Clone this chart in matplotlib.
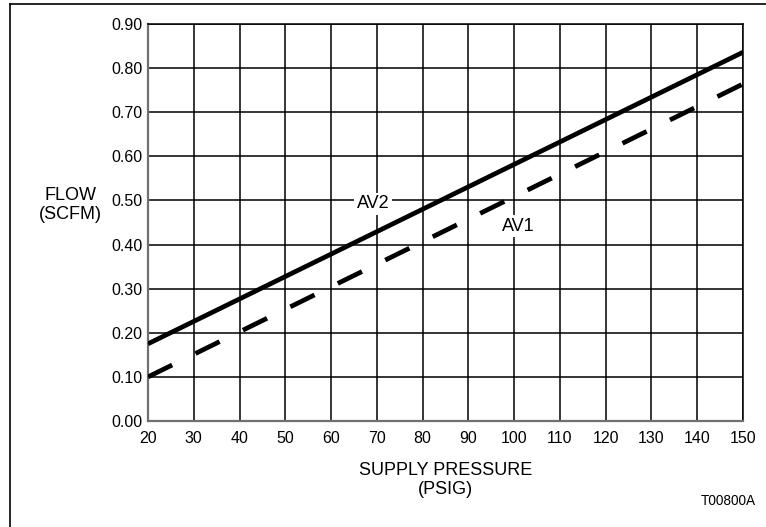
import matplotlib.pyplot as plt
from matplotlib.lines import Line2D

plt.rcParams['font.family'] = ['Liberation Sans', 'DejaVu Sans']

pressure = [20, 150]
av2_flow = [0.175, 0.836]
av1_flow = [0.100, 0.764]
x_ticks = [20, 30, 40, 50, 60, 70, 80, 90, 100, 110, 120, 130, 140, 150]
y_ticks = [0.0, 0.1, 0.2, 0.3, 0.4, 0.5, 0.6, 0.7, 0.8, 0.9]

fig = plt.figure(figsize=(7.66, 5.27), dpi=100)
ax = fig.add_axes([148/766, 1 - 421/527, 595/766, 397/527])

ax.set_xlim(20, 150)
ax.set_ylim(0, 0.9)
ax.set_xticks(x_ticks)
ax.set_yticks(y_ticks)
ax.set_yticklabels([f"{v:.2f}" for v in y_ticks])
ax.tick_params(length=0, labelsize=11.5, colors='black')
ax.tick_params(axis='x', pad=7)
ax.tick_params(axis='y', pad=4)
ax.grid(True, color='black', linewidth=1.1)
ax.set_axisbelow(True)

for side in ['left', 'bottom']:
    ax.spines[side].set_color('#707070')
    ax.spines[side].set_linewidth(1.6)
for side in ['top', 'right']:
    ax.spines[side].set_color('black')
    ax.spines[side].set_linewidth(1.1)

ax.plot(pressure, av2_flow, color='black', linewidth=3.4, solid_capstyle='butt', zorder=3)
ax.plot(pressure, av1_flow, color='black', linewidth=3.4, dashes=(5.7, 5.5), dash_capstyle='butt', zorder=3)

box = dict(facecolor='white', edgecolor='none', pad=2)
ax.text(69.2, 0.492, "AV2", fontsize=13, ha='center', va='center', bbox=box, zorder=4)
ax.text(100.8, 0.442, "AV1", fontsize=13, ha='center', va='center', bbox=box, zorder=4)

fig.text(445.5/766, 1 - 480/527, "SUPPLY PRESSURE\n(PSIG)", fontsize=13,
         ha='center', va='center', linespacing=1.15)
fig.text(70/766, 1 - 205/527, "FLOW\n(SCFM)", fontsize=13,
         ha='center', va='center', linespacing=1.15)
fig.text(756/766, 1 - 501/527, "T00800A", fontsize=9.8, ha='right', va='center')

# outer frame (left and top edges visible)
fig.add_artist(Line2D([10/766, 10/766], [0, 1 - 4/527], color='black', linewidth=1.2))
fig.add_artist(Line2D([10/766, 1], [1 - 4/527, 1 - 4/527], color='black', linewidth=1.2))

fig.savefig("out.png", dpi=100)
